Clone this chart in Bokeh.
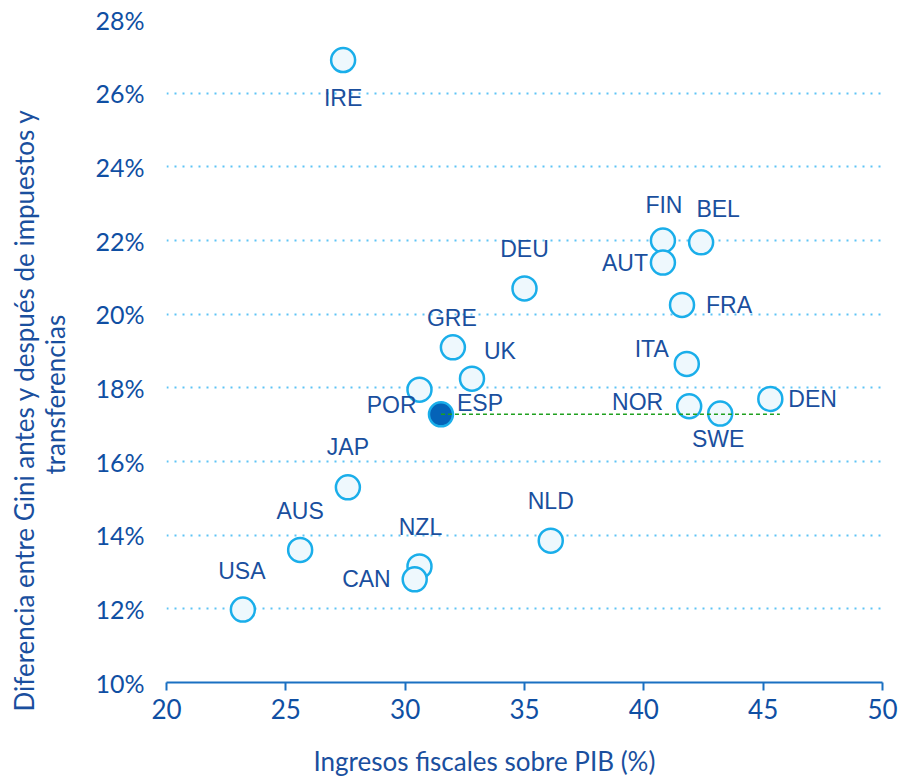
from bokeh.plotting import figure
from bokeh.models import ColumnDataSource, FixedTicker, PrintfTickFormatter, Range1d, Title
from bokeh.core.properties import value
from bokeh.embed import file_html
from bokeh.resources import INLINE

# ---- data ----
countries = ["IRE", "FIN", "BEL", "AUT", "FRA", "ITA", "NOR", "SWE", "DEN", "DEU",
             "GRE", "UK", "POR", "ESP", "JAP", "AUS", "USA", "NZL", "CAN", "NLD"]
tax_revenue = [27.4, 40.8, 42.4, 40.8, 41.6, 41.8, 41.9, 43.2, 45.3, 35.0,
               32.0, 32.8, 30.6, 31.5, 27.6, 25.6, 23.2, 30.6, 30.4, 36.1]
gini_diff = [26.9, 22.0, 21.95, 21.4, 20.25, 18.65, 17.5, 17.3, 17.7, 20.7,
             19.1, 18.25, 17.95, 17.28, 15.3, 13.6, 11.98, 13.15, 12.8, 13.85]
highlight = "ESP"
ref_line_x = [31.5, 45.7]
ref_line_y = [17.28, 17.28]
x_ticks = [20, 25, 30, 35, 40, 45, 50]
y_ticks = [10, 12, 14, 16, 18, 20, 22, 24, 26, 28]
x_title = "Ingresos fiscales sobre PIB (%)"
y_title_1 = "Diferencia entre Gini antes y después de impuestos y"
y_title_2 = "transferencias"

# ---- label placement (screen px: align, dx, dy-down) ----
label_pos = {
    "IRE": ("center", 0, 38), "FIN": ("center", 1, -36), "BEL": ("center", 17, -33),
    "AUT": ("right", -15, 0), "FRA": ("left", 24, 0), "ITA": ("right", -18, -15),
    "NOR": ("right", -26, -4), "SWE": ("center", -2, 25), "DEN": ("left", 18, 0),
    "DEU": ("center", 0, -39), "GRE": ("center", -1, -29), "UK": ("left", 12, -28),
    "POR": ("right", -3, 15), "ESP": ("left", 16, -11), "JAP": ("center", 0, -40),
    "AUS": ("center", 0, -39), "USA": ("center", -1, -39), "NZL": ("center", 1, -39),
    "CAN": ("right", -24, 0), "NLD": ("center", 0, -40),
}

TEXT = "#1a4f9e"
TICKTXT = "#0f4fa3"
CIRCLE_LINE = "#1aaeea"
CIRCLE_FILL = "#eef8fd"
DARK = "#0563b8"

p = figure(width=898, height=776, output_backend="svg", toolbar_location=None,
           x_range=Range1d(20, 50), y_range=Range1d(10, 28))
p.min_border_left = 166
p.min_border_right = 16
p.min_border_top = 19
p.min_border_bottom = 92
p.outline_line_color = None
p.background_fill_color = "white"
p.border_fill_color = "white"

# grid
p.xgrid.visible = False
p.ygrid.ticker = FixedTicker(ticks=y_ticks[1:])
p.ygrid.grid_line_color = "#5ec4f5"
p.ygrid.grid_line_width = 2
p.ygrid.grid_line_dash = "2 6"

# axes
xa = p.xaxis[0]
xa.ticker = FixedTicker(ticks=x_ticks)
xa.axis_line_color = "#1a70c2"
xa.axis_line_width = 2
xa.major_tick_line_color = "#1a70c2"
xa.major_tick_line_width = 2
xa.major_tick_out = 8
xa.major_tick_in = 0
xa.minor_tick_line_color = None
xa.major_label_standoff = 8
xa.major_label_text_font = "Lato"
xa.major_label_text_font_size = "26px"
xa.major_label_text_color = TICKTXT

ya = p.yaxis[0]
ya.ticker = FixedTicker(ticks=y_ticks)
ya.formatter = PrintfTickFormatter(format="%d%%")
ya.axis_line_color = None
ya.major_tick_line_color = None
ya.minor_tick_line_color = None
ya.major_tick_out = 0
ya.major_tick_in = 0
ya.major_label_standoff = 22
ya.major_label_text_font = "Lato"
ya.major_label_text_font_size = "25px"
ya.major_label_text_color = TICKTXT

# points
src = ColumnDataSource(dict(
    x=tax_revenue, y=gini_diff, name=countries,
    fill=[DARK if c == highlight else CIRCLE_FILL for c in countries],
    align=[label_pos[c][0] for c in countries],
    dx=[label_pos[c][1] for c in countries],
    dy=[label_pos[c][2] for c in countries],
))
p.scatter("x", "y", source=src, size=24, fill_color="fill",
          line_color=CIRCLE_LINE, line_width=2.5)

p.line(ref_line_x, ref_line_y, line_color="#1fa01f", line_width=1.5, line_dash="4 3")

p.text("x", "y", text="name", source=src, x_offset="dx", y_offset="dy",
       text_align="align", text_baseline="middle",
       text_font=value("Liberation Sans"), text_font_size="23px", text_color=TEXT)

# thin spacer below the x tick labels, then the x title
p.add_layout(Title(text=" ", text_font_size="2px", standoff=17), "below")
p.add_layout(Title(text=x_title, align="left", offset=147, text_font="Lato",
                   text_font_size="26px", text_font_style="normal",
                   text_color=TEXT, standoff=0), "below")
# thin spacer between the y tick labels and the y title lines
p.add_layout(Title(text=" ", text_font_size="2px", standoff=18), "left")
p.add_layout(Title(text=y_title_2, align="left", offset=208, text_font="Lato",
                   text_font_size="26px", text_font_style="normal",
                   text_color=TEXT, standoff=0), "left")
p.add_layout(Title(text=y_title_1, align="left", offset=-29, text_font="Lato",
                   text_font_size="26px", text_font_style="normal",
                   text_color=TEXT, standoff=-6), "left")

open("out.html", "w").write(file_html(p, INLINE))
